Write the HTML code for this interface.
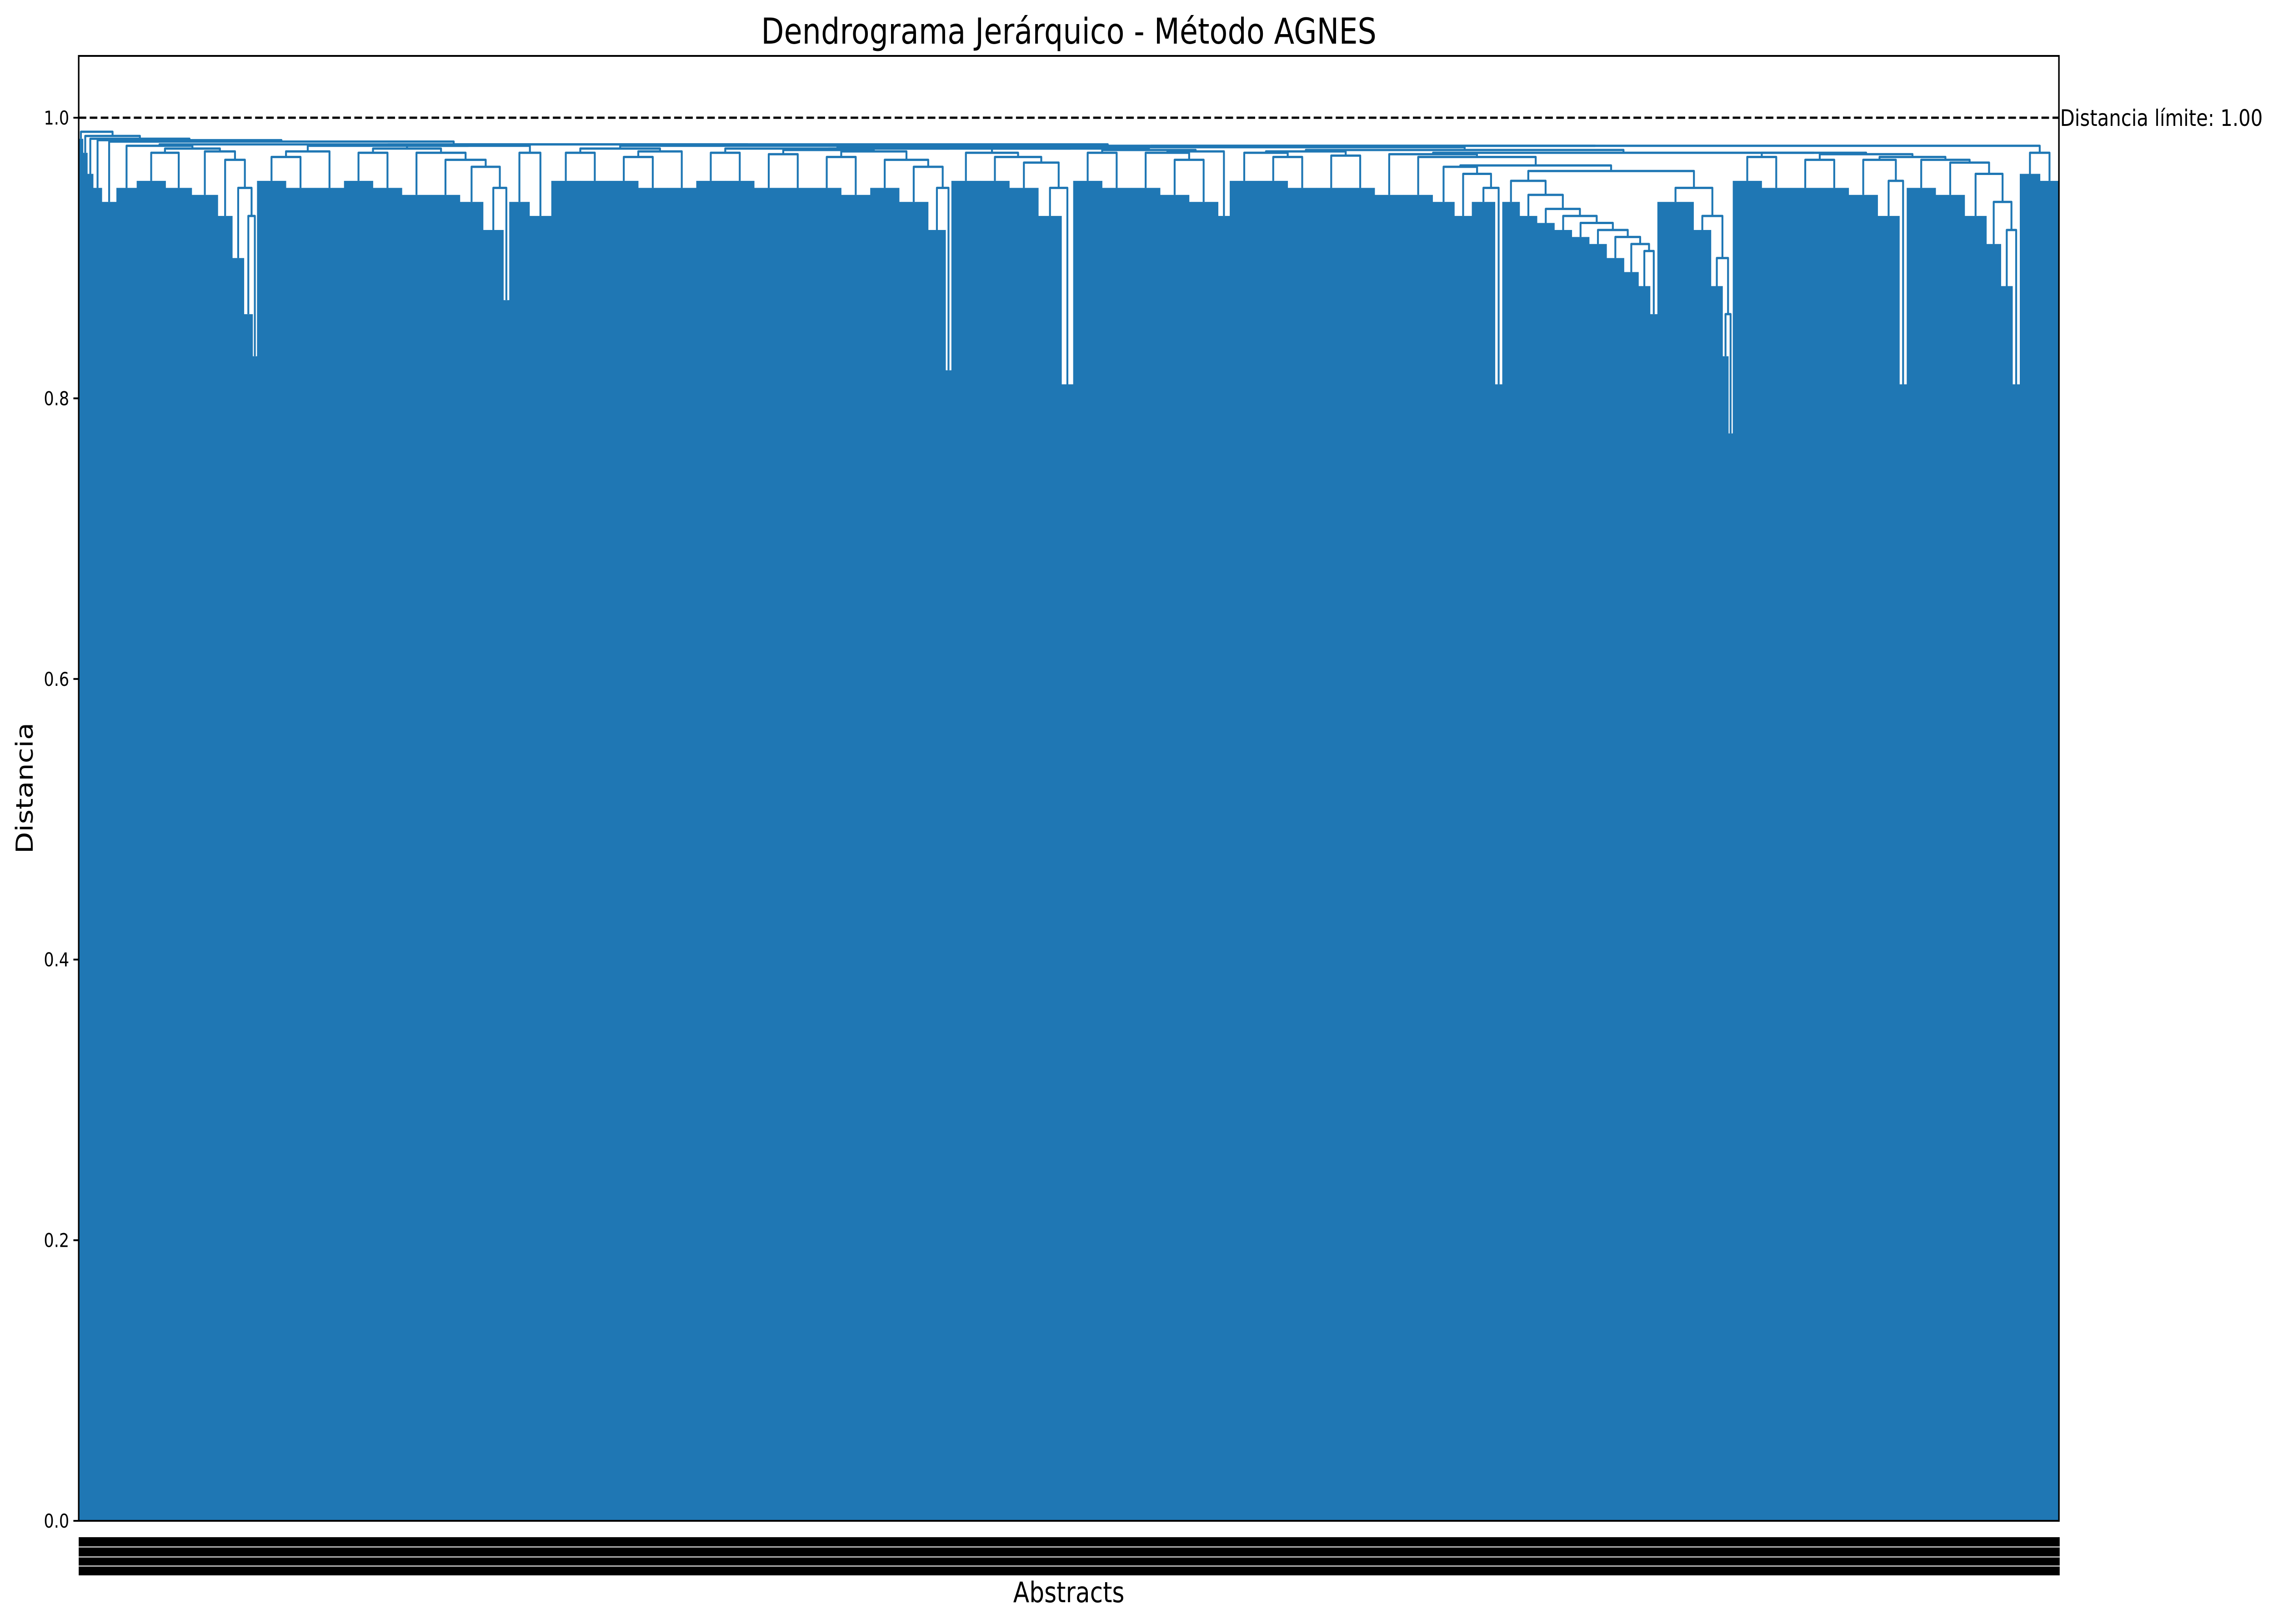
<!DOCTYPE html>
<html><head><meta charset="utf-8"><style>
html,body{margin:0;padding:0;background:#fff;width:100vw;height:100vh;overflow:hidden;}
svg{display:block;width:100vw;height:100vh;font-family:"DejaVu Sans","Liberation Sans",sans-serif;}
</style></head><body>
<svg id="chart" viewBox="0 0 5978 3573" preserveAspectRatio="none" xmlns="http://www.w3.org/2000/svg">
<rect x="0" y="0" width="5978" height="3573" fill="#fff"/>
<text x="2811" y="96" font-size="78" text-anchor="middle" fill="#000">Dendrograma Jerárquico - Método AGNES</text>
<g id="plot"></g>
<rect x="207" y="3382" width="5210" height="84" fill="#000"/>
<rect x="207" y="3402" width="5210" height="3" fill="#fff" opacity="0.7"/>
<rect x="207" y="3424" width="5210" height="3" fill="#fff" opacity="0.7"/>
<rect x="207" y="3444" width="5210" height="3" fill="#fff" opacity="0.7"/>
<text x="2811" y="3525" font-size="62" text-anchor="middle" fill="#000">Abstracts</text>
<text x="0" y="0" font-size="62" text-anchor="middle" fill="#000" transform="translate(86,1734) rotate(-90)">Distancia</text>
</svg>
<script>
// ---- data ----
const groupSizes = [3,3,4,6,10,14,20,18,18,10,8,6,3,20,20,20,20,20,20,20,16,14,4,14,15,20,20,20,20,20,20,20,20,20,20,20,20,20,12,4,20,20,20,16,8,20,20,20,20,20,8,20,20,20,20,20,20,20,15,12,16,5,12,12,12,12,12,12,12,10,8,5,25,12,8,4,3,20,20,20,20,20,15,5,20,20,15,10,8,5,14,13];
const groupTops = [.985,.975,.96,.95,.94,.95,.955,.95,.945,.93,.90,.86,.83,.955,.95,.95,.955,.95,.945,.945,.94,.92,.87,.94,.93,.955,.955,.955,.95,.95,.955,.955,.95,.95,.95,.945,.95,.94,.92,.82,.955,.955,.95,.93,.81,.955,.95,.95,.945,.94,.93,.955,.955,.95,.95,.95,.945,.945,.94,.93,.94,.81,.94,.93,.925,.92,.915,.91,.90,.89,.88,.86,.94,.92,.88,.83,.775,.955,.95,.95,.95,.945,.93,.81,.95,.945,.93,.91,.88,.81,.96,.955];
const mergeHeights = [.99,.987,.985,.984,.983,.98,.975,.978,.976,.97,.95,.93,.981,.972,.976,.98,.975,.978,.975,.97,.965,.95,.98,.975,.981,.975,.978,.972,.976,.98,.975,.978,.974,.977,.972,.976,.97,.965,.95,.978,.975,.972,.968,.95,.978,.975,.977,.975,.97,.976,.979,.975,.972,.976,.973,.977,.974,.972,.965,.96,.95,.966,.955,.945,.935,.93,.925,.92,.915,.91,.905,.962,.95,.93,.90,.86,.975,.972,.975,.97,.974,.97,.955,.972,.97,.968,.96,.94,.92,.98,.975];
const yTicks = [0,0.2,0.4,0.6,0.8,1.0];
const yTickLabels = ["0.0","0.2","0.4","0.6","0.8","1.0"];
const threshold = 1.0;
const thresholdLabel = "Distancia límite: 1.00";

// ---- layout ----
const NS = "http://www.w3.org/2000/svg";
const L = 207, R = 5415, T = 123, B = 3346;
const yMax = 1.0 + (259 - T) / 3087;
const ys = v => B - v / yMax * (B - T);
const total = groupSizes.reduce((a,b)=>a+b,0);
const xs = u => L + u / total * (R - L);
const COL = "#1f77b4";
const plot = document.getElementById('plot');
const svg = document.getElementById('chart');

function mk(tag, attrs, parent){
  const e = document.createElementNS(NS, tag);
  for (const k in attrs) e.setAttribute(k, attrs[k]);
  (parent||plot).appendChild(e);
  return e;
}

// group blocks
const starts = [];
let acc = 0;
groupSizes.forEach((s,i)=>{
  starts.push(acc);
  const r = mk('rect', {x: xs(acc), y: ys(groupTops[i]), width: xs(acc+s)-xs(acc)+0.5, height: B - ys(groupTops[i]), fill: COL});
  
  
  acc += s;
});

// recursive dendrogram links
function build(a, b){
  if (a === b) return {x: xs(starts[a] + groupSizes[a]/2), h: groupTops[a]};
  let k = a, m = -1;
  for (let i = a; i < b; i++) if (mergeHeights[i] > m){ m = mergeHeights[i]; k = i; }
  const left = build(a, k), right = build(k+1, b);
  const p = mk('path', {d: `M${left.x},${ys(left.h)}V${ys(m)}H${right.x}V${ys(right.h)}`, fill: 'none', stroke: COL, 'stroke-width': 5, 'stroke-linejoin': 'round'});
  
  
  return {x: (left.x + right.x)/2, h: m};
}
build(0, groupSizes.length - 1);

// threshold line
const th = mk('line', {x1: L, x2: R, y1: ys(threshold), y2: ys(threshold), stroke: '#000', 'stroke-width': 5, 'stroke-dasharray': '20 9'}, svg);


const tl = mk('text', {x: R + 3, y: ys(threshold) + 18, 'font-size': 50, fill: '#000'}, svg);
tl.textContent = thresholdLabel;



// axes frame
const fr = mk('rect', {x: L, y: T, width: R-L, height: B-T, fill: 'none', stroke: '#000', 'stroke-width': 4}, svg);



// y ticks
yTicks.forEach((v,i)=>{
  const tk = mk('line', {x1: L-14, x2: L, y1: ys(v), y2: ys(v), stroke: '#000', 'stroke-width': 4}, svg);
  
  
  const lb = mk('text', {x: L-25, y: ys(v)+15, 'font-size': 42, 'text-anchor': 'end', fill: '#000'}, svg);
  lb.textContent = yTickLabels[i];
  
  
});
</script>
</body></html>
